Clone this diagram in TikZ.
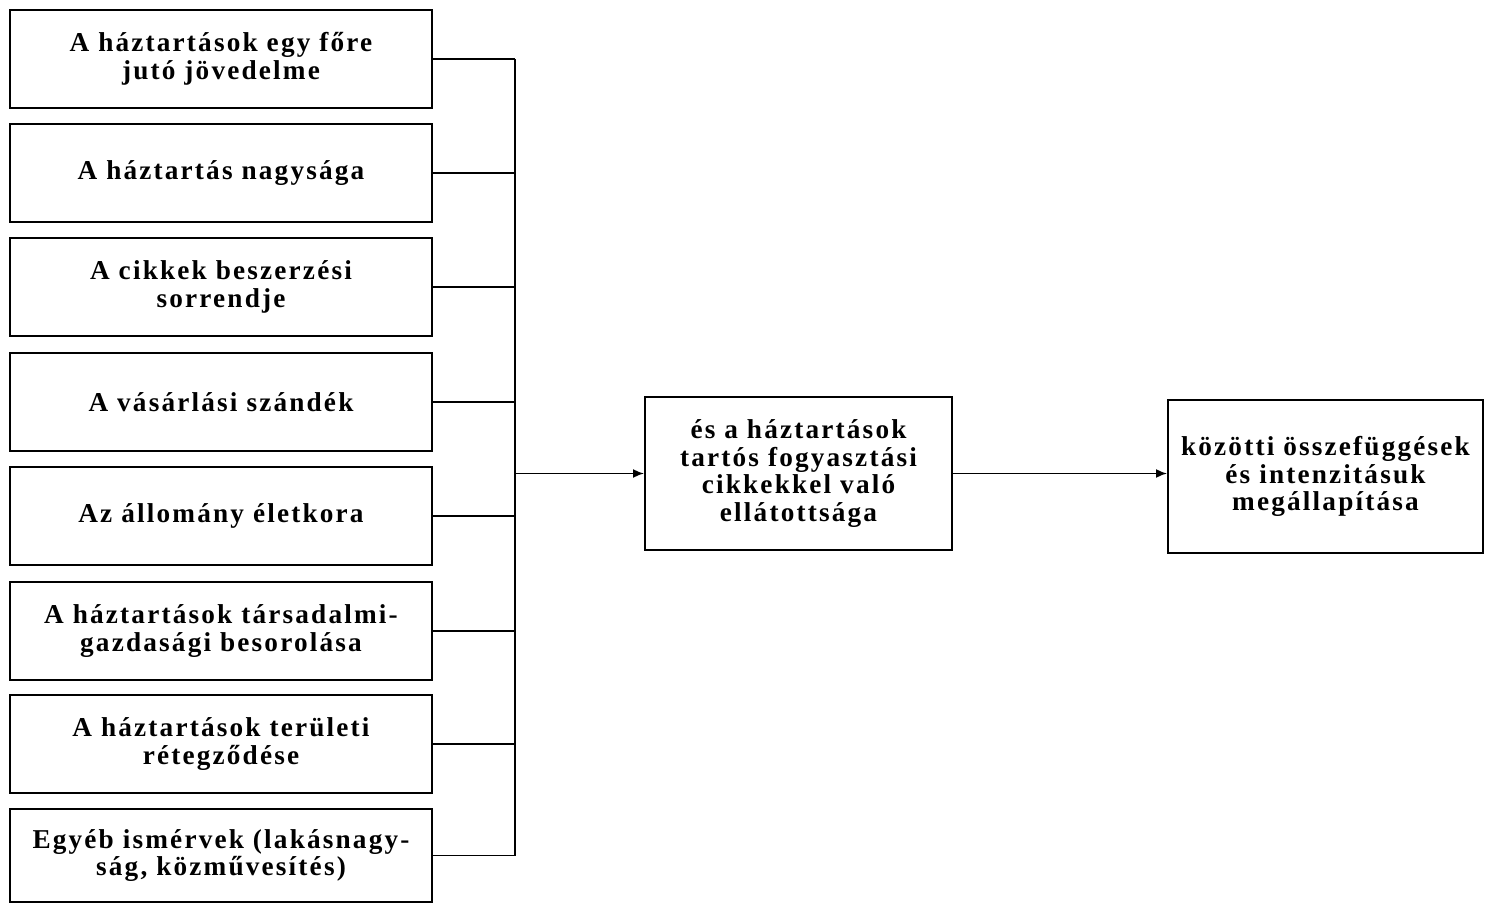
\documentclass[tikz,border=0pt]{standalone}
\usepackage{fontspec}
\setmainfont{Liberation Serif}
\newfontfamily\boxfont[LetterSpace=8]{Liberation Serif}
\usepackage{tikz}
\usetikzlibrary{arrows.meta}
\usetikzlibrary{positioning}
\tikzset{
    factor/.style={
        draw,
        rectangle,
        line width=1.1pt,
        minimum width=8.44cm,
        minimum height=1.96cm,
        align=center,
        inner sep=2pt,
        font=\boxfont\bfseries\fontsize{15.5}{15.8}\selectfont
    },
    result/.style={
        factor,
        minimum width=6.14cm,
        minimum height=3.06cm
    },
    link/.style={
        draw,
        line width=0.8pt
    },
    every edge/.style={
        draw,
        -{Latex[length=2.2mm, width=1.8mm]},
        line width=1pt
    }
}

\begin{document}
\begin{tikzpicture}[scale=1.0]
    \useasboundingbox (0,0) rectangle (29.8,-18.08);

    \node[factor] (f1) at (4.42,-1.18) {A háztartások egy főre\\jutó jövedelme};
    \node[factor] (f2) at (4.42,-3.46) {A háztartás nagysága};
    \node[factor] (f3) at (4.42,-5.74) {A cikkek beszerzési\\sorrendje};
    \node[factor] (f4) at (4.42,-8.04) {A vásárlási szándék};
    \node[factor] (f5) at (4.42,-10.32) {Az állomány életkora};
    \node[factor] (f6) at (4.42,-12.62) {A háztartások társadalmi-\\gazdasági besorolása};
    \node[factor] (f7) at (4.42,-14.88) {A háztartások területi\\rétegződése};
    \node[factor, minimum height=1.86cm] (f8) at (4.42,-17.11) {Egyéb ismérvek (lakásnagy-\\ság, közművesítés)};

    \node[result] (mid) at (15.97,-9.47) {és a háztartások\\tartós fogyasztási\\cikkekkel való\\ellátottsága};
    \node[result, minimum width=6.3cm] (end) at (26.51,-9.53) {közötti összefüggések\\és intenzitásuk\\megállapítása};

    \coordinate (trunk) at (10.3,0);

    \draw[link] (f1.east) -- (f1.east -| trunk);
    \draw[link] (f2.east) -- (f2.east -| trunk);
    \draw[link] (f3.east) -- (f3.east -| trunk);
    \draw[link] (f4.east) -- (f4.east -| trunk);
    \draw[link] (f5.east) -- (f5.east -| trunk);
    \draw[link] (f6.east) -- (f6.east -| trunk);
    \draw[link] (f7.east) -- (f7.east -| trunk);
    \draw[link] (f8.east) -- (f8.east -| trunk);
    \draw[link] (f1.east -| trunk) -- (f8.east -| trunk);

    \draw (mid.west -| trunk) edge (mid.west);
    \draw (mid.east) edge (mid.east -| end.west);
\end{tikzpicture}
\end{document}
